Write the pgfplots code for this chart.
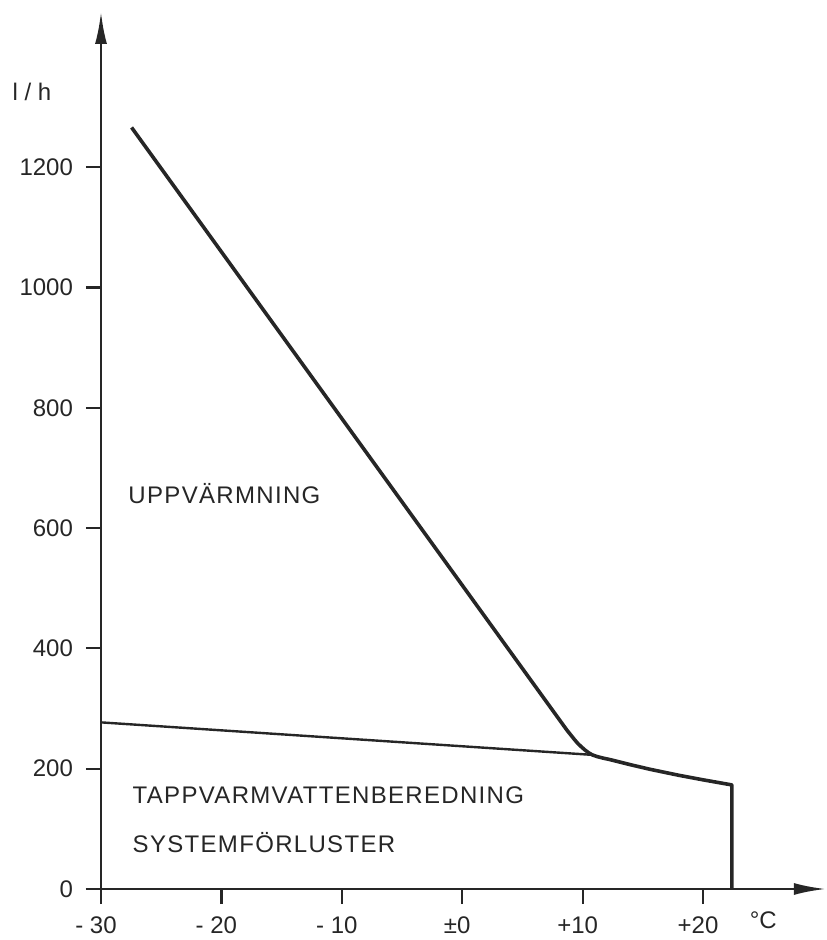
\documentclass[border=0pt]{standalone}
\usepackage{pgfplots}
\pgfplotsset{compat=1.18}
\usepackage{fontspec}
\setmainfont{Liberation Sans}
\newfontfamily\lab[LetterSpace=5.5]{Liberation Sans}
\usetikzlibrary{arrows.meta}
\begin{document}
\begin{tikzpicture}
\begin{axis}[
  at={(0,0)}, anchor=south west,
  x=6.02pt, y=0.30075pt,
  xmin=-30, xmax=30.2, ymin=0, ymax=1458,
  axis lines=left,
  axis line style={line width=1.3pt, color=black!85, -{Latex[length=16pt,width=6pt]}},
  xtick={-30,-20,-10,0,10,20},
  xticklabels={- 30,- 20,- 10,±0,+10,+20},
  ytick={0,200,...,1200},
  yticklabels={0,200,400,600,800,1000,1200},
  tick align=outside,
  major tick length=7.5pt,
  tick style={line width=1.1pt, black!85},
  tick label style={font=\fontsize{12}{14}\selectfont, text=black!85},
  xticklabel style={xshift=-2.5pt, yshift=-3pt},
  yticklabel style={xshift=-3pt},
  clip=false,
]
\draw[line width=1.3pt, black!85] (axis cs:-31.25,0) -- (axis cs:-30,0);
\addplot[line width=1.8pt, black!85, line join=round] coordinates {
(-27.46,1266) (8.7,264) (9.0,256.5) (9.3,249) (9.6,242) (9.9,236.3) (10.2,231)
(10.5,226.5) (10.8,223) (11.2,220.2) (11.7,217.6) (12.3,215) (13,211.5)
(14,206.5) (15.6,199) (18,189) (20,181.5) (22.4,173) (22.4,0)};
\addplot[line width=1.2pt, black!85] coordinates {(-30,277) (10.8,223)};
\node[anchor=west, inner sep=0, font=\lab\fontsize{12}{14}\selectfont, text=black!85] at (axis cs:-27.75,658) {UPPVÄRMNING};
\node[anchor=west, inner sep=0, font=\lab\fontsize{12}{14}\selectfont, text=black!85] at (axis cs:-27.4,156) {TAPPVARMVATTENBEREDNING};
\node[anchor=west, inner sep=0, font=\lab\fontsize{12}{14}\selectfont, text=black!85] at (axis cs:-27.4,78) {SYSTEMFÖRLUSTER};
\node[font=\fontsize{12}{14}\selectfont, text=black!85] at (axis cs:-35.73,1325) {l / h};
\node[font=\fontsize{12}{14}\selectfont, text=black!85] at (axis cs:25.0,-52) {°C};
\end{axis}
\pgfresetboundingbox
\useasboundingbox (-50.5pt,-25.5pt) rectangle (362.5pt,444.5pt);
\end{tikzpicture}
\end{document}
